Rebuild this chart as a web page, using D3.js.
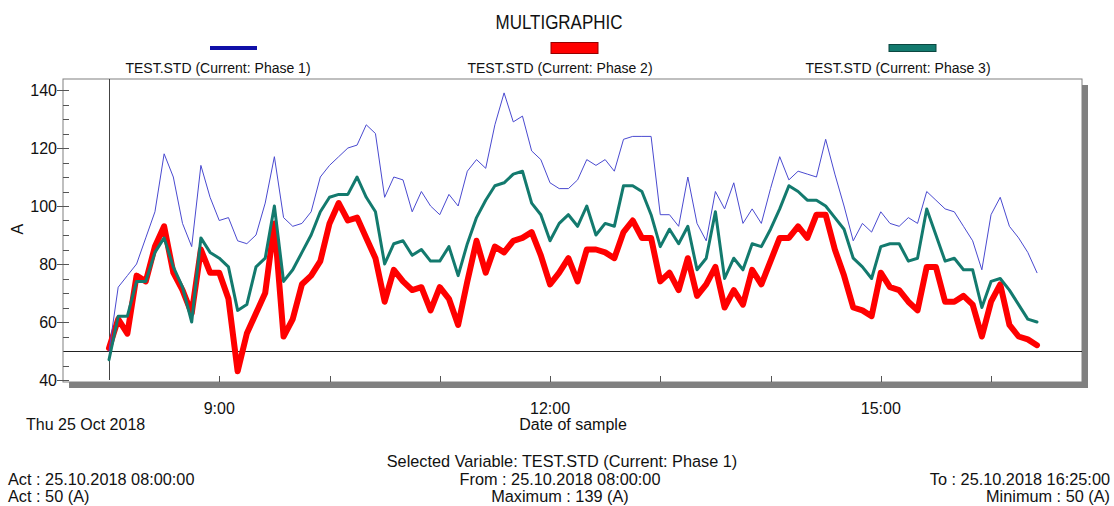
<!DOCTYPE html>
<html>
<head>
<meta charset="utf-8">
<script src="https://cdn.jsdelivr.net/npm/d3@7"></script>
<style>
  html, body { margin: 0; padding: 0; background: #ffffff; }
  svg { display: block; font-family: "Liberation Sans", Arial, sans-serif; }
</style>
</head>
<body>
<svg id="chart" width="1114" height="506"></svg>
<script>
// Samples every 5 minutes from 08:00 to 16:25 on 25 Oct 2018
const sampleStart = new Date(2018, 9, 25, 8, 0, 0);
const sampleStepMinutes = 5;

const phase1 = [50, 72, 76, 80, 89, 98, 118, 110, 94, 86, 114, 103, 95, 96, 88, 87, 90, 101, 117, 96,
  93, 94, 98, 110, 114, 117, 120, 121, 128, 125, 103, 110, 109, 98, 105, 100, 97, 104, 100, 112,
  116, 113, 128, 139, 129, 131, 119, 116, 108, 106, 106, 109, 116, 114, 116, 112, 123, 124, 124, 124,
  97, 97, 93, 110, 94, 88, 105, 99, 108, 94, 99, 94, 106, 117, 109, 112, 111, 110, 123, 111,
  100, 88, 94, 91, 98, 94, 93, 96, 94, 105, 102, 99, 98, 93, 88, 78, 97, 103, 93, 89,
  84, 77];

const phase2 = [51, 61, 56, 76, 74, 86, 93, 77, 71, 63, 85, 77, 77, 68, 43, 56, 63, 70, 94, 55,
  61, 73, 76, 81, 94, 101, 95, 96, 89, 82, 67, 78, 74, 71, 72, 64, 72, 68, 59, 74,
  88, 77, 86, 84, 88, 89, 91, 83, 73, 77, 82, 74, 85, 85, 84, 82, 91, 95, 89, 89,
  74, 77, 71, 82, 69, 73, 79, 65, 71, 66, 78, 73, 81, 89, 89, 93, 89, 97, 97, 85,
  76, 65, 64, 62, 77, 72, 71, 67, 64, 79, 79, 67, 67, 69, 66, 55, 67, 73, 59, 55,
  54, 52];

const phase3 = [47, 62, 62, 74, 74, 84, 89, 79, 72, 60, 89, 84, 82, 79, 64, 66, 79, 82, 100, 74,
  78, 84, 90, 98, 103, 104, 104, 110, 103, 98, 80, 87, 88, 83, 85, 81, 81, 86, 76, 87,
  96, 102, 107, 108, 111, 112, 101, 97, 88, 94, 97, 93, 100, 90, 94, 93, 107, 107, 105, 97,
  86, 92, 87, 93, 78, 82, 98, 75, 82, 78, 87, 86, 92, 99, 107, 105, 102, 102, 100, 96,
  92, 82, 79, 75, 86, 87, 87, 81, 82, 99, 90, 81, 82, 78, 78, 65, 74, 75, 71, 66,
  61, 60];

const seriesNames = ["TEST.STD (Current: Phase 1)", "TEST.STD (Current: Phase 2)", "TEST.STD (Current: Phase 3)"];
const seriesColors = ["#1010a8", "#ff0000", "#137a6e"];
const yTickValues = [40, 60, 80, 100, 120, 140];
const xTickLabels = ["9:00", "12:00", "15:00"];
const cursorValue = 50;

const footer = {
  selected: "Selected Variable: TEST.STD (Current: Phase 1)",
  actTime: "Act : 25.10.2018 08:00:00",
  actValue: "Act : 50 (A)",
  from: "From : 25.10.2018 08:00:00",
  maximum: "Maximum : 139 (A)",
  to: "To : 25.10.2018 16:25:00",
  minimum: "Minimum : 50 (A)"
};

const svg = d3.select("#chart");
const W = 1114, H = 506;
svg.append("rect").attr("width", W).attr("height", H).attr("fill", "#ffffff");

const plot = { left: 63, right: 1082, top: 79, bottom: 382 };

const times = phase1.map((_, i) => new Date(sampleStart.getTime() + i * sampleStepMinutes * 60000));

const x = d3.scaleTime()
  .domain([new Date(2018, 9, 25, 7, 34, 58), new Date(2018, 9, 25, 16, 49, 30)])
  .range([plot.left, plot.right]);
const y = d3.scaleLinear().domain([40, 140]).range([380, 90]);

// Drop shadow of the plot frame
svg.append("rect")
  .attr("x", plot.left + 6).attr("y", plot.top + 6)
  .attr("width", plot.right - plot.left).attr("height", plot.bottom - plot.top)
  .attr("fill", "#808080");
svg.append("rect")
  .attr("x", plot.left).attr("y", plot.top)
  .attr("width", plot.right - plot.left).attr("height", plot.bottom - plot.top)
  .attr("fill", "#ffffff").attr("stroke", "#808080").attr("stroke-width", 1);

// Title
svg.append("text").attr("x", 559).attr("y", 29).attr("text-anchor", "middle")
  .attr("font-size", 21).attr("textLength", 127).attr("lengthAdjust", "spacingAndGlyphs")
  .attr("fill", "#111").text("MULTIGRAPHIC");

// Legend
const legendLabelX = [218, 560, 898];
const legendSwatchX = [210, 551, 889];
const legendSwatchH = [4, 11, 7];
seriesNames.forEach((name, i) => {
  svg.append("rect")
    .attr("x", legendSwatchX[i]).attr("y", 48 - legendSwatchH[i] / 2)
    .attr("width", 47).attr("height", legendSwatchH[i])
    .attr("fill", seriesColors[i])
    .attr("stroke", i === 0 ? "none" : d3.color(seriesColors[i]).darker(1.5))
    .attr("stroke-width", 1);
  svg.append("text").attr("x", legendLabelX[i]).attr("y", 73).attr("text-anchor", "middle")
    .attr("font-size", 14).attr("fill", "#111").text(name);
});

// Y axis with minor ticks
const yAxisG = svg.append("g").attr("transform", `translate(${plot.left},0)`);
const minorTicks = d3.range(40, 141, 5);
yAxisG.selectAll("line.minor").data(minorTicks).join("line")
  .attr("x1", 0).attr("x2", 6)
  .attr("y1", d => Math.round(y(d)) + 0.5).attr("y2", d => Math.round(y(d)) + 0.5)
  .attr("stroke", "#555");
yAxisG.selectAll("line.major").data(yTickValues).join("line")
  .attr("x1", -6).attr("x2", 6)
  .attr("y1", d => Math.round(y(d)) + 0.5).attr("y2", d => Math.round(y(d)) + 0.5)
  .attr("stroke", "#555");
yAxisG.selectAll("text").data(yTickValues).join("text")
  .attr("x", -6).attr("y", d => y(d) + 6).attr("text-anchor", "end")
  .attr("font-size", 16).attr("fill", "#111").text(d => d);
svg.append("text")
  .attr("transform", `translate(23,${y(92)}) rotate(-90)`)
  .attr("text-anchor", "middle").attr("font-size", 16).attr("fill", "#111").text("A");

// X axis: hourly ticks, labels every three hours
const parseHM = d3.timeParse("%H:%M");
const labelTimes = xTickLabels.map(s => {
  const t = parseHM(s);
  return new Date(2018, 9, 25, t.getHours(), t.getMinutes());
});
const hourTicks = d3.timeHour.range(new Date(2018, 9, 25, 9), new Date(2018, 9, 25, 17));
svg.append("g").selectAll("line").data(hourTicks).join("line")
  .attr("x1", d => Math.round(x(d)) + 0.5).attr("x2", d => Math.round(x(d)) + 0.5)
  .attr("y1", plot.bottom - 6).attr("y2", plot.bottom)
  .attr("stroke", "#555");
svg.append("g").selectAll("text").data(labelTimes).join("text")
  .attr("x", d => x(d)).attr("y", 414).attr("text-anchor", "middle")
  .attr("font-size", 16).attr("fill", "#111").text((d, i) => xTickLabels[i]);
svg.append("text").attr("x", 26).attr("y", 430).attr("font-size", 16).attr("fill", "#111")
  .text(d3.timeFormat("%a %d %b %Y")(sampleStart));
svg.append("text").attr("x", 573).attr("y", 430).attr("text-anchor", "middle")
  .attr("font-size", 16).attr("fill", "#111").text("Date of sample");

// Cursor lines
svg.append("line")
  .attr("x1", plot.left + 1).attr("x2", plot.right)
  .attr("y1", Math.round(y(cursorValue)) + 0.5).attr("y2", Math.round(y(cursorValue)) + 0.5)
  .attr("stroke", "#222");
svg.append("line")
  .attr("x1", Math.round(x(sampleStart)) + 0.5).attr("x2", Math.round(x(sampleStart)) + 0.5)
  .attr("y1", plot.top).attr("y2", 380)
  .attr("stroke", "#444");

// Series lines: phase 2 underneath, phase 3 over it, phase 1 on top
const line = d3.line().x((d, i) => x(times[i])).y(d => y(d));
const drawOrder = [1, 2, 0];
const widths = [1, 6, 3];
const data = [phase1, phase2, phase3];
drawOrder.forEach(k => {
  svg.append("path").datum(data[k])
    .attr("d", line)
    .attr("fill", "none")
    .attr("stroke", k === 0 ? "#4a4ad0" : seriesColors[k])
    .attr("stroke-width", widths[k])
    .attr("stroke-linejoin", "round")
    .attr("stroke-linecap", "round");
});

// Footer
const ft = svg.append("g").attr("font-size", 16.3).attr("fill", "#111");
ft.append("text").attr("x", 562).attr("y", 467).attr("text-anchor", "middle").text(footer.selected);
ft.append("text").attr("x", 8).attr("y", 485).text(footer.actTime);
ft.append("text").attr("x", 8).attr("y", 502).text(footer.actValue);
ft.append("text").attr("x", 560).attr("y", 485).attr("text-anchor", "middle").text(footer.from);
ft.append("text").attr("x", 560).attr("y", 502).attr("text-anchor", "middle").text(footer.maximum);
ft.append("text").attr("x", 1110).attr("y", 485).attr("text-anchor", "end").text(footer.to);
ft.append("text").attr("x", 1110).attr("y", 502).attr("text-anchor", "end").text(footer.minimum);
</script>
</body>
</html>
